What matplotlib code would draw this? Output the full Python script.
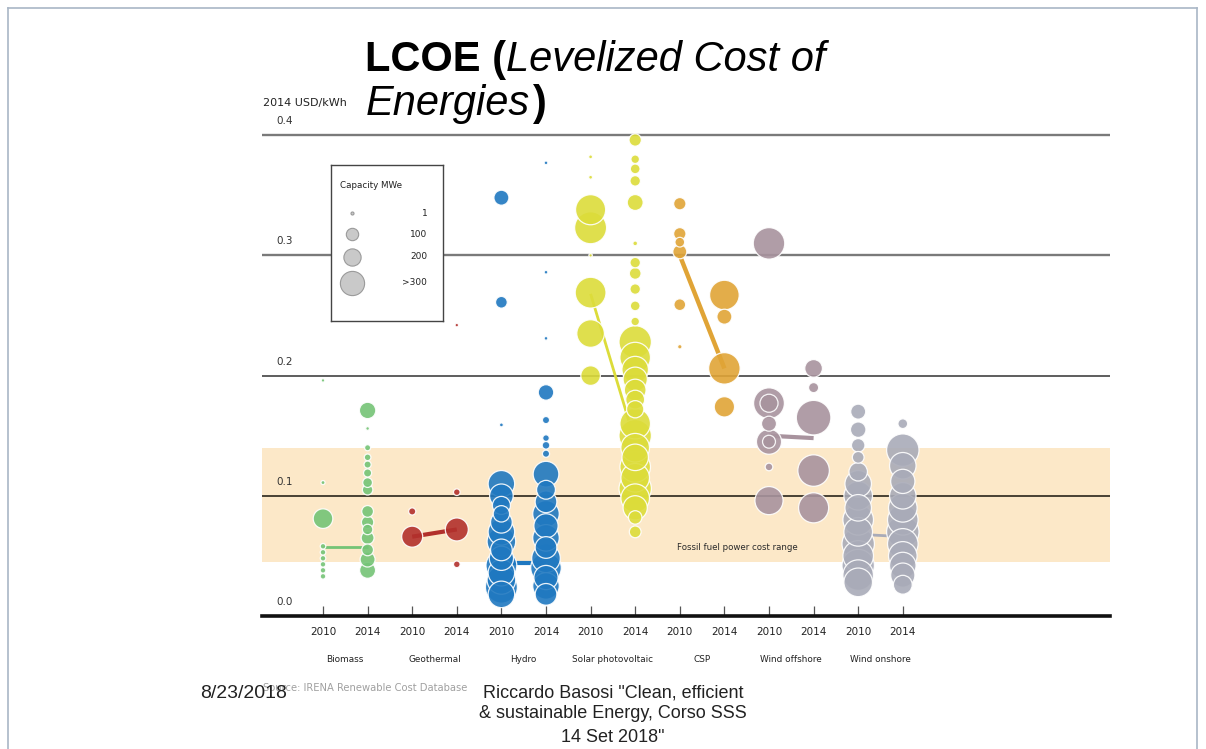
import matplotlib
matplotlib.use("Agg")
import matplotlib.pyplot as plt
from matplotlib.lines import Line2D

# ---------------- data ----------------
technologies = ["Biomass", "Geothermal", "Hydro", "Solar photovoltaic", "CSP",
                "Wind offshore", "Wind onshore"]
years = ["2010", "2014"]
tech_colors = ["#74c476", "#b2302c", "#1f78c0", "#dcdc3a", "#e0a436",
               "#a8939e", "#a9abb8"]
y_ticks = [0.0, 0.1, 0.2, 0.3, 0.4]
fossil_range = [0.045, 0.14]

biomass_2010_lcoe = [0.196, 0.111, 0.081, 0.058, 0.053, 0.048, 0.043, 0.038, 0.033]
biomass_2010_mw = [3, 6, 260, 16, 16, 16, 16, 16, 16]
biomass_2014_lcoe = [0.171, 0.156, 0.140, 0.132, 0.126, 0.119, 0.111, 0.105,
                     0.087, 0.078, 0.072, 0.065, 0.055, 0.047, 0.038]
biomass_2014_mw = [180, 4, 20, 25, 30, 40, 60, 70, 90, 100, 70, 110, 90, 150, 170]

geothermal_2010_lcoe = [0.087, 0.066]
geothermal_2010_mw = [30, 300]
geothermal_2014_lcoe = [0.242, 0.103, 0.072, 0.043]
geothermal_2014_mw = [3, 25, 360, 25]

hydro_2010_lcoe = [0.348, 0.261, 0.159, 0.110, 0.100, 0.092, 0.085, 0.078, 0.070,
                   0.062, 0.055, 0.048, 0.042, 0.036, 0.030, 0.024, 0.018]
hydro_2010_mw = [150, 90, 5, 480, 380, 220, 180, 320, 480,
                 560, 320, 400, 650, 480, 560, 700, 480]
hydro_2014_lcoe = [0.377, 0.286, 0.231, 0.186, 0.163, 0.148, 0.142, 0.135, 0.118,
                   0.105, 0.095, 0.085, 0.075, 0.065, 0.057, 0.048, 0.040, 0.032,
                   0.025, 0.018]
hydro_2014_mw = [4, 4, 4, 160, 30, 25, 35, 30, 450,
                 240, 320, 480, 400, 480, 320, 560, 640, 400, 480, 320]

solar_2010_lcoe = [0.382, 0.365, 0.338, 0.323, 0.300, 0.269, 0.235, 0.200]
solar_2010_mw = [5, 5, 620, 700, 3, 650, 520, 260]
solar_2014_lcoe = [0.396, 0.380, 0.372, 0.362, 0.344, 0.310, 0.294, 0.285, 0.272,
                   0.258, 0.245, 0.228, 0.215, 0.205, 0.197, 0.188, 0.180, 0.172,
                   0.160, 0.150, 0.140, 0.132, 0.124, 0.115, 0.106, 0.098, 0.090,
                   0.082, 0.070]
solar_2014_mw = [100, 45, 60, 70, 170, 10, 70, 90, 70,
                 60, 45, 720, 640, 480, 400, 320, 240, 200,
                 640, 720, 560, 480, 640, 560, 720, 560, 400,
                 120, 90]

csp_2010_lcoe = [0.343, 0.318, 0.311, 0.303, 0.259, 0.224]
csp_2010_mw = [100, 100, 60, 130, 90, 8]
csp_2014_lcoe = [0.267, 0.249, 0.206, 0.174]
csp_2014_mw = [600, 150, 680, 280]

offshore_2010_lcoe = [0.310, 0.177, 0.177, 0.160, 0.145, 0.145, 0.124, 0.096]
offshore_2010_mw = [680, 650, 220, 150, 430, 110, 35, 540]
offshore_2014_lcoe = [0.206, 0.190, 0.165, 0.121, 0.090]
offshore_2014_mw = [210, 65, 820, 680, 620]

onshore_2010_lcoe = [0.170, 0.155, 0.142, 0.132, 0.120, 0.110, 0.100, 0.090, 0.080,
                     0.070, 0.060, 0.050, 0.042, 0.034, 0.028]
onshore_2010_mw = [150, 160, 120, 90, 230, 480, 560, 480, 640,
                   560, 720, 640, 720, 640, 560]
onshore_2014_lcoe = [0.160, 0.138, 0.125, 0.112, 0.100, 0.090, 0.080, 0.070, 0.060,
                     0.050, 0.042, 0.034, 0.026]
onshore_2014_mw = [60, 720, 480, 400, 480, 560, 640, 720, 640, 560, 480, 400, 240]

median_2010 = [0.057, 0.066, 0.044, 0.268, 0.300, 0.150, 0.068]
median_2014 = [0.057, 0.072, 0.044, 0.145, 0.206, 0.148, 0.066]
median_widths = [2.0, 3.0, 3.0, 2.0, 3.2, 3.0, 2.0]

legend_caps = [1, 100, 200, 400]
legend_labels = ["1", "100", "200", ">300"]

columns_lcoe = [biomass_2010_lcoe, biomass_2014_lcoe, geothermal_2010_lcoe,
                geothermal_2014_lcoe, hydro_2010_lcoe, hydro_2014_lcoe,
                solar_2010_lcoe, solar_2014_lcoe, csp_2010_lcoe, csp_2014_lcoe,
                offshore_2010_lcoe, offshore_2014_lcoe, onshore_2010_lcoe,
                onshore_2014_lcoe]
columns_mw = [biomass_2010_mw, biomass_2014_mw, geothermal_2010_mw,
              geothermal_2014_mw, hydro_2010_mw, hydro_2014_mw,
              solar_2010_mw, solar_2014_mw, csp_2010_mw, csp_2014_mw,
              offshore_2010_mw, offshore_2014_mw, onshore_2010_mw,
              onshore_2014_mw]


def bubble_size(mw):
    return 0.75 * mw + 4


# ---------------- figure ----------------
W, H = 1206, 749
fig = plt.figure(figsize=(W / 100, H / 100), dpi=100)
fig.patch.set_facecolor("white")

cond = ["Liberation Sans Narrow", "DejaVu Sans"]
arial = ["Liberation Sans", "DejaVu Sans"]

# slide border
border_col = "#a9b6c6"
fig.add_artist(Line2D([8 / W, 1197 / W], [1 - 8 / H, 1 - 8 / H], color=border_col, lw=1.2))
fig.add_artist(Line2D([8 / W, 8 / W], [0, 1 - 8 / H], color=border_col, lw=1.2))
fig.add_artist(Line2D([1197 / W, 1197 / W], [0, 1 - 8 / H], color=border_col, lw=1.2))

ax_left, ax_right, ax_bottom, ax_top = 262, 1110, 616, 111
ax = fig.add_axes([ax_left / W, (H - ax_bottom) / H,
                   (ax_right - ax_left) / W, (ax_bottom - ax_top) / H])
px_per_x = 44.6
x0 = 323
ax.set_xlim((ax_left - x0) / px_per_x, (ax_right - x0) / px_per_x)
ax.set_ylim(0, (ax_bottom - ax_top) / 1202)
ax.set_facecolor("none")
for s in ["top", "left", "right"]:
    ax.spines[s].set_visible(False)
ax.spines["bottom"].set_linewidth(2.6)
ax.spines["bottom"].set_color("#111111")
ax.spines["bottom"].set_zorder(6)

ax.axhspan(fossil_range[0], fossil_range[1], color="#fce8c8", zorder=0, lw=0)
grid_cols = {0.1: "#3a3428", 0.2: "#505050", 0.3: "#7a7a7a", 0.4: "#7a7a7a"}
grid_lw = {0.1: 1.3, 0.2: 1.3, 0.3: 1.7, 0.4: 1.7}
for v in y_ticks[1:]:
    ax.axhline(v, color=grid_cols[v], lw=grid_lw[v], zorder=1)

for v in y_ticks:
    ax.text((276 - x0) / px_per_x, v + 14 / 1202, f"{v:.1f}", fontsize=7.5,
            family=cond, color="#333333", ha="left", va="center", clip_on=False)

positions = list(range(len(columns_lcoe)))
ax.set_xticks(positions)
ax.set_xticklabels([])
ax.tick_params(axis="x", direction="in", length=7, width=0.9, color="#555555")
ax.set_yticks([])

for i in positions:
    ax.text(i, -16 / 1202, years[i % 2], fontsize=7.5, family=cond,
            color="#222222", ha="center", va="center", clip_on=False)
for k, name in enumerate(technologies):
    ax.text(2 * k + 0.5, -43 / 1202, name, fontsize=6.4, family=cond,
            color="#222222", ha="center", va="center", clip_on=False)

# median connecting lines
for k in range(len(technologies)):
    ax.plot([2 * k, 2 * k + 1], [median_2010[k], median_2014[k]],
            color=tech_colors[k], lw=median_widths[k], zorder=2.5,
            solid_capstyle="butt")

# bubbles
for i in positions:
    col = tech_colors[i // 2]
    pairs = sorted(zip(columns_lcoe[i], columns_mw[i]), key=lambda p: -p[1])
    vals = [p[0] for p in pairs]
    caps = [p[1] for p in pairs]
    ax.scatter([i] * len(vals), vals, s=[bubble_size(c) for c in caps],
               color=col, alpha=0.9, edgecolors="white", linewidths=0.9,
               zorder=3, clip_on=False)

ax.text((677 - x0) / px_per_x, (616 - 547) / 1202, "Fossil fuel power cost range",
        fontsize=6.2, family=cond, color="#2a2a2a", ha="left", va="center",
        zorder=4)

# legend box
lg = fig.add_axes([331 / W, (H - 321) / H, 112 / W, 156 / H])
lg.set_xlim(0, 1)
lg.set_ylim(0, 1)
lg.set_xticks([])
lg.set_yticks([])
lg.set_facecolor("white")
for s in lg.spines.values():
    s.set_color("#444444")
    s.set_linewidth(1.0)
lg.set_zorder(5)
lg.text(0.08, 0.87, "Capacity MWe", fontsize=6.3, family=cond, color="#222222",
        ha="left", va="center")
leg_y = [0.69, 0.555, 0.413, 0.245]
for yy, c, lab in zip(leg_y, legend_caps, legend_labels):
    lg.scatter([0.19], [yy], s=bubble_size(c), color="#c9c9c9",
               edgecolors="#9a9a9a", linewidths=0.8)
    lg.text(0.86, yy, lab, fontsize=6.5, family=cond, color="#222222",
            ha="right", va="center")

# y axis unit label
fig.text(263 / W, 1 - 103 / H, "2014 USD/kWh", fontsize=8, family=cond,
         color="#222222", ha="left", va="center")

# title (mixed styles)
renderer = fig.canvas.get_renderer()
t1 = fig.text(365 / W, 1 - 71 / H, "LCOE (", fontsize=30, family=arial,
              weight="bold", ha="left", va="baseline", color="black")
bb = t1.get_window_extent(renderer)
fig.text(bb.x1 / W, 1 - 71 / H, "Levelized Cost of", fontsize=30, family=arial,
         style="italic", ha="left", va="baseline", color="black")
t3 = fig.text(366 / W, 1 - 115 / H, "Energies", fontsize=30, family=arial,
              style="italic", ha="left", va="baseline", color="black")
bb3 = t3.get_window_extent(renderer)
fig.text(bb3.x1 / W + 0.002, 1 - 115 / H, ")", fontsize=30, family=arial,
         weight="bold", ha="left", va="baseline", color="black")

# footer
fig.text(263 / W, 1 - 688 / H, "Source: IRENA Renewable Cost Database",
         fontsize=7.2, family=cond, color="#a0a0a0", ha="left", va="center")
fig.text(200 / W, 1 - 693 / H, "8/23/2018", fontsize=14, family=arial,
         color="#222222", ha="left", va="center")
fig.text(613 / W, 1 - 693 / H, "Riccardo Basosi \"Clean, efficient", fontsize=13,
         family=arial, color="#222222", ha="center", va="center")
fig.text(613 / W, 1 - 714 / H, "& sustainable Energy, Corso SSS", fontsize=13,
         family=arial, color="#222222", ha="center", va="center")
fig.text(613 / W, 1 - 737 / H, "14 Set 2018\"", fontsize=13,
         family=arial, color="#222222", ha="center", va="center")

fig.savefig("out.png", dpi=100)
